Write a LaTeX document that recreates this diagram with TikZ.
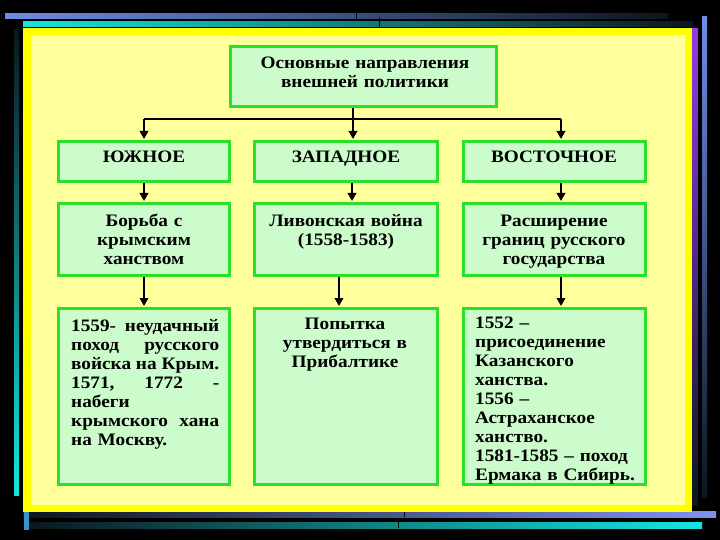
\documentclass[tikz,border=0pt]{standalone}
\usepackage{fontspec}
\setmainfont{Liberation Serif}[FakeStretch=1.1]
\usetikzlibrary{arrows.meta}
\definecolor{boxfill}{RGB}{204,252,204}
\definecolor{boxline}{RGB}{40,225,40}
\definecolor{ylw}{RGB}{255,255,0}
\definecolor{lylw}{RGB}{255,255,155}
\definecolor{barblue}{RGB}{110,140,230}
\definecolor{barperi}{RGB}{128,144,240}
\definecolor{barcyan}{RGB}{20,230,225}
\definecolor{barpurple}{RGB}{145,60,225}
\definecolor{barsteel}{RGB}{50,150,200}
\definecolor{darkbar}{RGB}{12,22,30}
\newcommand{\jline}[1]{\leavevmode\hbox to 148pt{#1}}
\begin{document}
\begin{tikzpicture}[x=1pt,y=-1pt,
  box/.style={draw=boxline, fill=boxfill, line width=3pt, rectangle, inner sep=0pt},
  txt/.style={font=\bfseries\fontsize{17.5}{19}\selectfont, inner sep=0pt, text=black},
  ctxt/.style={txt, text width=178pt, align=center, anchor=base},
  conn/.style={line width=2pt, black},
  arr/.style={conn, -{Triangle[length=8pt,width=8.5pt]}, shorten >=1pt}]

\fill[black] (0,0) rectangle (720,540);
\useasboundingbox (0,0) rectangle (720,540);

% decorative bars
\shade[left color=barblue, right color=darkbar] (5,14) rectangle (668,19);
\shade[left color=barcyan, right color=darkbar] (23,22) rectangle (693,27);
\shade[top color=barpurple, bottom color=darkbar] (692,29) rectangle (698,505);
\shade[top color=barblue, bottom color=darkbar] (702,17) rectangle (707,497);
\shade[left color=darkbar, right color=barperi] (23,511) rectangle (716,517);
\shade[left color=darkbar, right color=barcyan] (28,522) rectangle (702,528);
\shade[top color=darkbar, bottom color=barcyan] (14,30) rectangle (19,495);
\fill[barsteel] (24,512) rectangle (29,530);
\draw[black, line width=1pt] (356,8) -- (356,20) (379,17) -- (379,27)
  (404,510) -- (404,517) (398,520) -- (398,528);

% yellow panel
\fill[ylw] (23,28) rectangle (692,512);
\fill[lylw] (31,35) rectangle (685,505);

% boxes
\node[box, minimum width=266pt, minimum height=60pt] (top) at (363.5,76.5) {};
\node[box, minimum width=171pt, minimum height=40pt] (s1) at (144,161.5) {};
\node[box, minimum width=183pt, minimum height=40pt] (s2) at (346,161.5) {};
\node[box, minimum width=182pt, minimum height=40pt] (s3) at (554.5,161.5) {};
\node[box, minimum width=171pt, minimum height=72pt] (g1) at (144,239.5) {};
\node[box, minimum width=183pt, minimum height=72pt] (g2) at (346,239.5) {};
\node[box, minimum width=182pt, minimum height=72pt] (g3) at (554.5,239.5) {};
\node[box, minimum width=171pt, minimum height=176pt] (d1) at (144,396.5) {};
\node[box, minimum width=183pt, minimum height=176pt] (d2) at (346,396.5) {};
\node[box, minimum width=182pt, minimum height=176pt] (d3) at (554.5,396.5) {};

% texts
\node[ctxt, text width=260pt] (ttop) at (365,69) {Основные направления\\внешней политики};
\node[txt, anchor=base] (ts1) at (144,162.5) {ЮЖНОЕ};
\node[txt, anchor=base] (ts2) at (346,162.5) {ЗАПАДНОЕ};
\node[txt, anchor=base] (ts3) at (554,162.5) {ВОСТОЧНОЕ};
\node[ctxt, text width=165pt] (tg1) at (144,226) {Борьба с\\крымским\\ханством};
\node[ctxt] (tg2) at (346,226) {Ливонская война\\(1558-1583)};
\node[ctxt] (tg3) at (554,226) {Расширение\\границ русского\\государства};
\node[txt, text width=148pt, align=left, anchor=base west] (td1) at (71,331) {%
  \jline{1559-\hfill неудачный}\\
  \jline{поход\hfill русского}\\
  \jline{войска\hfill на\hfill Крым.}\\
  \jline{1571,\hfill 1772\hfill -}\\
  набеги\\
  \jline{крымского\hfill хана}\\
  на Москву.};
\node[ctxt] (td2) at (345,329) {Попытка\\утвердиться в\\Прибалтике};
\node[txt, text width=168pt, align=left, anchor=base west] (td3) at (475,328.5) {1552 --\\присоединение\\Казанского\\ханства.\\1556 --\\Астраханское\\ханство.\\1581-1585 -- поход\\Ермака в Сибирь.};

% connectors
\coordinate (jL) at (144,119);
\coordinate (jM) at (353,119);
\coordinate (jR) at (561,119);
\draw[conn] (jL) -- (jR);
\draw[arr] (top.south -| jM) -- (s2.north -| jM);
\draw[arr] (jL) -- (s1.north -| jL);
\draw[arr] (jR) -- (s3.north -| jR);
\draw[arr] (s1.south) -- (g1.north);
\draw[arr] ([xshift=6pt]s2.south) -- ([xshift=6pt]g2.north);
\draw[arr] ([xshift=6.5pt]s3.south) -- ([xshift=6.5pt]g3.north);
\draw[arr] (g1.south) -- (d1.north);
\draw[arr] ([xshift=-7pt]g2.south) -- ([xshift=-7pt]d2.north);
\draw[arr] ([xshift=6.5pt]g3.south) -- ([xshift=6.5pt]d3.north);
\end{tikzpicture}
\end{document}
